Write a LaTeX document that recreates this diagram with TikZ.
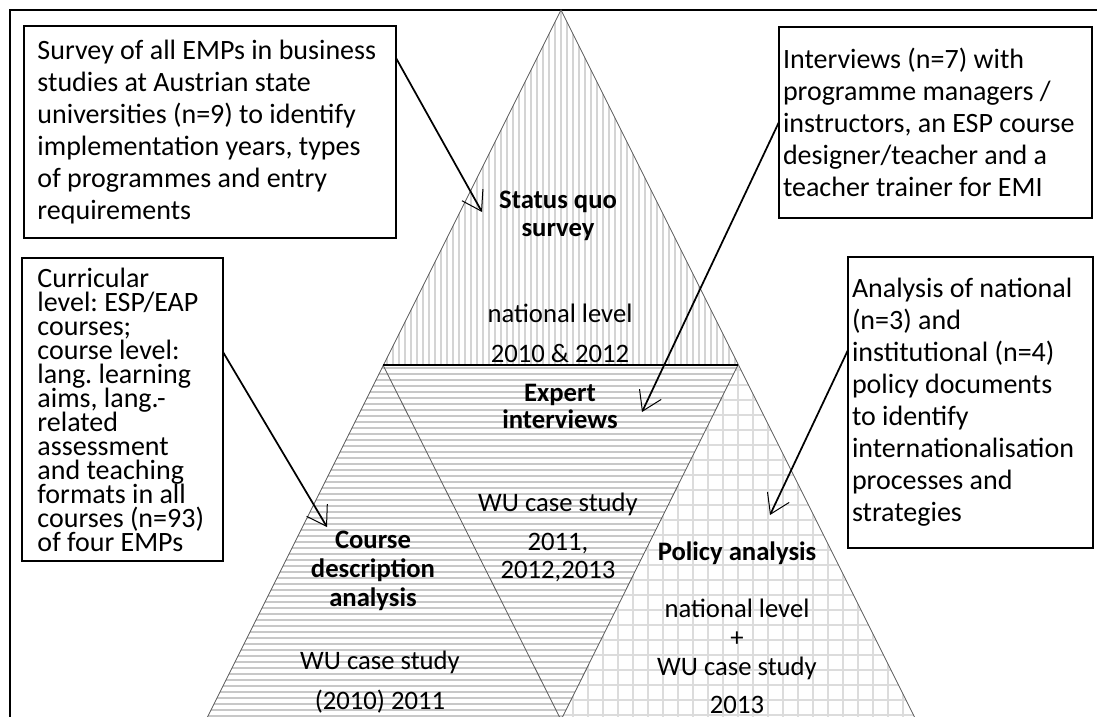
\documentclass[tikz,border=0pt]{standalone}
\usepackage{fontspec}
\setmainfont{Carlito}
\usepackage{tikz}
\usetikzlibrary{arrows.meta}
\frenchspacing

\begin{document}
\begin{tikzpicture}[x=0.75pt,y=0.75pt,yscale=-1,xscale=1,
    notebox/.style={draw=black,line width=0.9pt,anchor=north west,align=flush left,inner ysep=0pt,outer sep=0pt,font=\fontsize{21}{24}\selectfont},
    tight/.style={font={\fontsize{21}{18}\selectfont\lineskiplimit=-30pt}},
    tritext/.style={align=center,inner sep=0pt,font={\fontsize{20}{30}\selectfont\lineskiplimit=-30pt}},
    trititle/.style={align=center,inner sep=0pt,font={\bfseries\fontsize{20}{21}\selectfont\lineskiplimit=-30pt}},
    vhatch/.style={color={rgb, 255:red, 212; green, 212; blue, 212},line width=1pt},
    hhatch/.style={color={rgb, 255:red, 200; green, 200; blue, 200},line width=1pt},
    gridline/.style={color={rgb, 255:red, 220; green, 220; blue, 220},line width=1.2pt},
    triedge/.style={color={rgb, 255:red, 90; green, 90; blue, 90},line width=0.6pt},
    pointer/.style={line width=1.3pt,-{Straight Barb[length=14pt,width=18pt,line width=0.75pt]}}
  ]
  \useasboundingbox (0,0) rectangle (1097,717);
  %Frame
  \draw [line width=1.1pt] (1097,10) -- (10,10) -- (10,717) ;

  %Triangle corners
  \coordinate (apex) at (561,10);
  \coordinate (midL) at (383,365);
  \coordinate (midR) at (738,365);
  \coordinate (baseL) at (206,720);
  \coordinate (baseM) at (561,720);
  \coordinate (baseR) at (916,720);

  \begin{scope}
    \clip (0,0) rectangle (1097,717);
    %Status quo fill (vertical lines)
    \begin{scope}
      \clip (apex) -- (midL) -- (midR) -- cycle;
      \foreach \x in {381,387,...,741} \draw [vhatch] (\x,10) -- (\x,365);
    \end{scope}
    %Expert + course fill (horizontal lines)
    \begin{scope}
      \clip (midL) -- (midR) -- (baseM) -- (baseL) -- cycle;
      \foreach \y in {368,374,...,722} \draw [hhatch] (200,\y) -- (740,\y);
    \end{scope}
    %Policy fill (grid)
    \begin{scope}
      \clip (midR) -- (baseR) -- (baseM) -- cycle;
      \foreach \x in {558,573,...,920} \draw [gridline] (\x,360) -- (\x,720);
      \foreach \y in {370,385,...,722} \draw [gridline] (555,\y) -- (920,\y);
    \end{scope}
    %Triangle edges
    \draw [triedge] (baseL) -- (apex) -- (baseR) ;
    \draw [triedge] (midL) -- (baseM) -- (midR) ;
    \draw [line width=1.1pt] (midL) -- (midR) ;
  \end{scope}

  % Text Node
  \node [notebox,inner xsep=10.125pt,text width=258.75pt,minimum height=159pt] (noteSurvey) at (24,26)
    {Survey of all EMPs in business\\studies at Austrian state\\universities (n=9) to identify\\implementation years, types\\of programmes and entry\\requirements};
  % Text Node
  \node [notebox,inner xsep=3pt,text width=228.75pt,minimum height=143.25pt] (noteInterviews) at (779,27)
    {Interviews (n=7) with\\programme managers /\\instructors, an ESP course\\designer/teacher and a\\teacher trainer for EMI};
  % Text Node
  \node [notebox,tight,inner xsep=11.625pt,text width=127.5pt,minimum height=227.25pt] (noteCourses) at (22,258)
    {Curricular\\level: ESP/EAP\\courses;\\course level:\\lang. learning\\aims, lang.-\\related\\assessment\\and teaching\\formats in all\\courses (n=93)\\of four EMPs};
  % Text Node
  \node [notebox,inner xsep=3pt,text width=177.75pt,minimum height=218.25pt] (notePolicy) at (848,257)
    {Analysis of national\\(n=3) and\\institutional (n=4)\\policy documents\\to identify\\internationalisation\\processes and\\strategies};

  % Text Node
  \node [trititle] (statusQuo) at (558,216) {Status quo\\survey};
  \node [tritext] (statusQuoInfo) at (560,333) {national level\\2010 \& 2012};
  \node [trititle,font={\bfseries\fontsize{20}{20.25}\selectfont\lineskiplimit=-30pt}] (expert) at (560,406) {Expert\\interviews};
  \node [tritext,font={\fontsize{20}{21}\selectfont\lineskiplimit=-30pt}] (expertInfo) at (558,537) {WU case study\\[8.25pt]2011,\\2012,2013};
  \node [trititle,font={\bfseries\fontsize{20}{21.75}\selectfont\lineskiplimit=-30pt}] (course) at (373,571) {Course\\description\\analysis};
  \node [tritext] (courseInfo) at (380,682) {WU case study\\(2010) 2011};
  \node [trititle] (policy) at (737,553) {Policy analysis};
  \node [tritext,font={\fontsize{20}{22}\selectfont\lineskiplimit=-30pt}] (policyInfo) at (737,656) {national level\\+\\WU case study\\[6pt]2013};

  %Arrow ends
  \coordinate (statusTip) at (482,212);
  \coordinate (expertTip) at (642,412);
  \coordinate (courseTip) at (327,527);
  \coordinate (policyTip) at (770,515);

  %Straight Lines
  \draw [pointer] (noteSurvey.east |- 0,58) -- (statusTip) ;
  \draw [pointer] (noteInterviews.west |- 0,122) -- (expertTip) ;
  \draw [pointer] (noteCourses.east |- 0,352) -- (courseTip) ;
  \draw [pointer] (notePolicy.west |- 0,350) -- (policyTip) ;
\end{tikzpicture}
\end{document}
